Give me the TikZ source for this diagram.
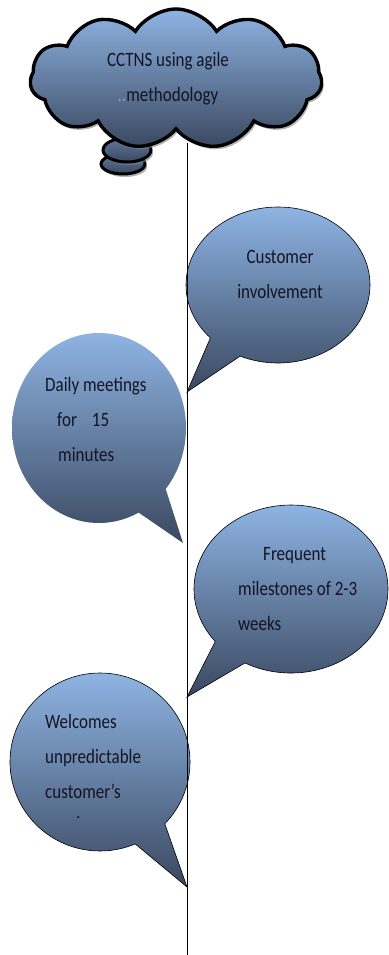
\documentclass[tikz,border=0pt]{standalone}
\usepackage{fontspec}
\setmainfont{Carlito}
\usetikzlibrary{shapes.callouts,shapes.symbols,shadows}

\definecolor{skytop}{RGB}{142,180,227}
\definecolor{slatebot}{RGB}{58,72,96}
\definecolor{dotblue}{RGB}{120,160,220}
\definecolor{inkblack}{RGB}{20,20,35}

% slightly tall lettering
\newcommand{\tall}[1]{\scalebox{1}[1.2]{#1}}

\begin{document}
\begin{tikzpicture}[x=1pt, y=-1pt,
    bubble/.style={ellipse callout, draw=black, line width=0.6pt, inner sep=0pt,
        top color=skytop, bottom color=slatebot, callout pointer arc=23},
    puff/.style={draw=black, line width=3pt, top color=slatebot!55!skytop, bottom color=slatebot,
        drop shadow={shadow xshift=2pt, shadow yshift=-3pt, fill=gray, opacity=.6}},
    blurb/.style={align=left, inner sep=0pt, font=\fontsize{17}{35}\selectfont, text=inkblack}]
    \useasboundingbox (0,0) rectangle (388,955);

    % points on the spine where the bubbles point
    \coordinate (spinetop) at (187,143);
    \coordinate (tip1) at (187,392);
    \coordinate (tip2) at (183,543);
    \coordinate (tip3) at (187,697);
    \coordinate (tip4) at (187,887);
    \coordinate (foot) at (187,955);

    % thought cloud with its two little puffs
    \path[puff] (123,164) ellipse [x radius=22, y radius=10];
    \path[puff] (127,150) ellipse [x radius=24, y radius=12];
    \node[cloud, draw=black, line width=3.4pt, inner sep=0pt,
        minimum width=292pt, minimum height=140pt, cloud puffs=11, cloud puff arc=115,
        cloud ignores aspect, top color=skytop, bottom color=slatebot,
        drop shadow={shadow xshift=2pt, shadow yshift=-3pt, fill=gray, opacity=.6}]
        (cloud) at (176,79) {};
    \node[blurb, align=center] (cloudtext) at (168,79)
        {\tall{CCTNS using agile}\\\tall{\textcolor{dotblue}{..}methodology}};

    % speech bubbles
    \node[bubble, minimum width=184pt, minimum height=156pt,
        callout absolute pointer={(tip1)}] (care) at (278,285) {};
    \node[bubble, draw=none, minimum width=174pt, minimum height=190pt,
        callout absolute pointer={(tip2)}] (daily) at (99,428) {};
    \node[bubble, minimum width=194pt, minimum height=168pt,
        callout absolute pointer={(tip3)}] (sprint) at (291,589) {};
    \node[bubble, minimum width=180pt, minimum height=178pt,
        callout absolute pointer={(tip4)}] (change) at (100,762) {};

    \node[blurb, align=center] (caretext) at (280,274)
        {\tall{Customer}\\\tall{involvement}};
    \node[blurb, anchor=west] (dailytext) at (45,419)
        {\tall{Daily meetings}\\\hspace*{12pt}\tall{for\hspace{15pt}15}\\\hspace*{13pt}\tall{minutes}};
    \node[blurb, anchor=west] (sprinttext) at (238,589)
        {\hspace*{25pt}\tall{Frequent}\\\tall{milestones of 2-3}\\\tall{weeks}};
    \node[blurb, anchor=west] (changetext) at (45,766)
        {\tall{Welcomes}\\\tall{unpredictable}\\\tall{customer's}\\[-15pt]\hspace*{31pt}.};

    % the spine
    \draw[line width=1pt] (spinetop) -- (foot);
\end{tikzpicture}
\end{document}
